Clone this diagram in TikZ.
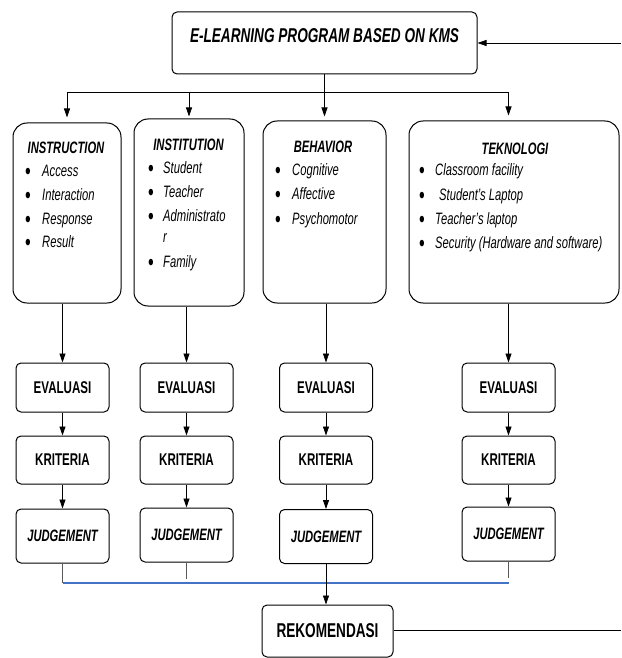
\documentclass[tikz,border=0pt]{standalone}
\usepackage{fontspec}
\setmainfont{Liberation Sans}[FakeStretch=0.68]
\usepackage{tikz}
\usetikzlibrary{arrows.meta,positioning}

\definecolor{busblue}{RGB}{68,114,196}

\begin{document}
\begin{tikzpicture}[x=1pt,y=-1pt,
  topbox/.style={draw,line width=1pt,rounded corners=5pt,inner sep=0pt},
  bigbox/.style={draw,line width=1pt,rounded corners=14pt,inner sep=0pt},
  smallbox/.style={draw,line width=1pt,rounded corners=5pt,inner sep=0pt,minimum width=93},
  arr/.style={-{Triangle[length=9pt,width=6pt]},line width=0.8pt},
  hd/.style={inner sep=0pt,font=\fontsize{16.5}{18}\selectfont\bfseries\itshape},
  itm/.style={anchor=mid west,inner sep=0pt,font=\fontsize{16.5}{18}\selectfont\itshape},
  dot/.style={inner sep=0pt,font=\fontsize{24}{26}\selectfont},
  up/.style={font=\fontsize{17}{19}\selectfont\bfseries},
  judg/.style={font=\fontsize{16.5}{18}\selectfont\bfseries\itshape}]
\useasboundingbox (0,0) rectangle (621,658);

% top
\node[topbox,minimum width=305,minimum height=62] (kms) at (324.5,43) {};
\node[inner sep=0pt,font=\fontsize{20}{22}\selectfont\bfseries\itshape] (kmstext) at (324.5,36) {E-LEARNING PROGRAM BASED ON KMS};
\coordinate (inR) at (621,43);
\draw[arr] (inR) -- (kms.east);

% the four parts
\node[bigbox,minimum width=108,minimum height=180] (instr) at (67,213) {};
\node[bigbox,minimum width=110,minimum height=187] (inst) at (189,212.5) {};
\node[bigbox,minimum width=123,minimum height=182] (behav) at (324.5,212) {};
\node[bigbox,minimum width=210,minimum height=182] (tekno) at (514,212) {};

\node[hd] (instr-h) at (66,148) {INSTRUCTION};
\foreach \t/\y [count=\i] in {Access/174,Interaction/198,Response/222,Result/245} {
  \node[dot] (instr-b\i) at (28,\y) {•};
  \node[itm] (instr-\i) at (42,\y) {\t};
}

\node[hd] (inst-h) at (188.5,145) {INSTITUTION};
\foreach \t/\y [count=\i] in {Student/171,Teacher/195,Administrato/219,Family/265} {
  \node[dot] (inst-b\i) at (151,\y) {•};
  \node[itm] (inst-\i) at (163,\y) {\t};
}
\node[itm] (inst-r) at (163,240) {r};

\node[hd] (behav-h) at (323,147) {BEHAVIOR};
\foreach \t/\y [count=\i] in {Cognitive/173,Affective/197,Psychomotor/222} {
  \node[dot] (behav-b\i) at (278,\y) {•};
  \node[itm] (behav-\i) at (292,\y) {\t};
}

\node[hd] (tekno-h) at (515,149) {TEKNOLOGI};
\foreach \t/\x/\y [count=\i] in {Classroom facility/435/173,Student's Laptop/439/198,Teacher's laptop/435/222,Security (Hardware and software)/435/246} {
  \node[dot] (tekno-b\i) at (422,\y) {•};
  \node[itm] (tekno-\i) at (\x,\y) {\t};
}

% evaluation chain
\foreach \n/\x/\yj in {1/62.5/536,2/186.5/535,3/326/536.5,4/508.5/534} {
  \node[smallbox,minimum height=49,up] (eva\n) at (\x,387.5) {EVALUASI};
  \node[smallbox,minimum height=48,up] (kri\n) at (\x,460) {KRITERIA};
  \node[smallbox,minimum height=54,judg] (jud\n) at (\x,\yj) {JUDGEMENT};
  \draw[arr] (eva\n) -- (kri\n);
  \draw[arr] (kri\n) -- (jud\n);
}

% top branches
\coordinate (hub) at (0,93);
\draw[line width=1pt] (instr.north |- hub) -- (eva4.north |- hub);
\draw[arr,shorten >=4pt] (kms.south) -- (kms.south |- behav.north);
\draw[arr,shorten >=5pt] (instr.north |- hub) -- (instr.north);
\draw[arr,shorten >=2pt] (inst.north |- hub) -- (inst.north);
\draw[arr,shorten >=5pt] (eva4.north |- hub) -- (eva4.north |- tekno.north);

\draw[arr] (instr.south -| eva1.north) -- (eva1.north);
\draw[arr] (inst.south -| eva2.north) -- (eva2.north);
\draw[arr] (behav.south -| eva3.north) -- (eva3.north);
\draw[arr] (tekno.south -| eva4.north) -- (eva4.north);

% bottom
\node[smallbox,minimum width=131,minimum height=52,font=\fontsize{20}{22}\selectfont\bfseries] (rek) at (327.5,631) {REKOMENDASI};
\coordinate (bus) at (0,583);
\draw[gray!70!black,line width=0.6pt] (jud1.south) -- (jud1.south |- bus);
\draw[gray!70!black,line width=0.6pt,shorten >=4pt] (jud2.south) -- (jud2.south |- bus);
\draw[gray!70!black,line width=0.6pt,shorten >=5pt] (jud4.south) -- (jud4.south |- bus);
\draw[busblue,line width=1.2pt] (jud1.south |- bus) -- (jud4.south |- bus);
\draw[arr] (jud3.south) -- (jud3.south |- rek.north);
\coordinate (outR) at (621,630);
\draw[line width=1pt] (rek.east |- outR) -- (outR);
\end{tikzpicture}
\end{document}
